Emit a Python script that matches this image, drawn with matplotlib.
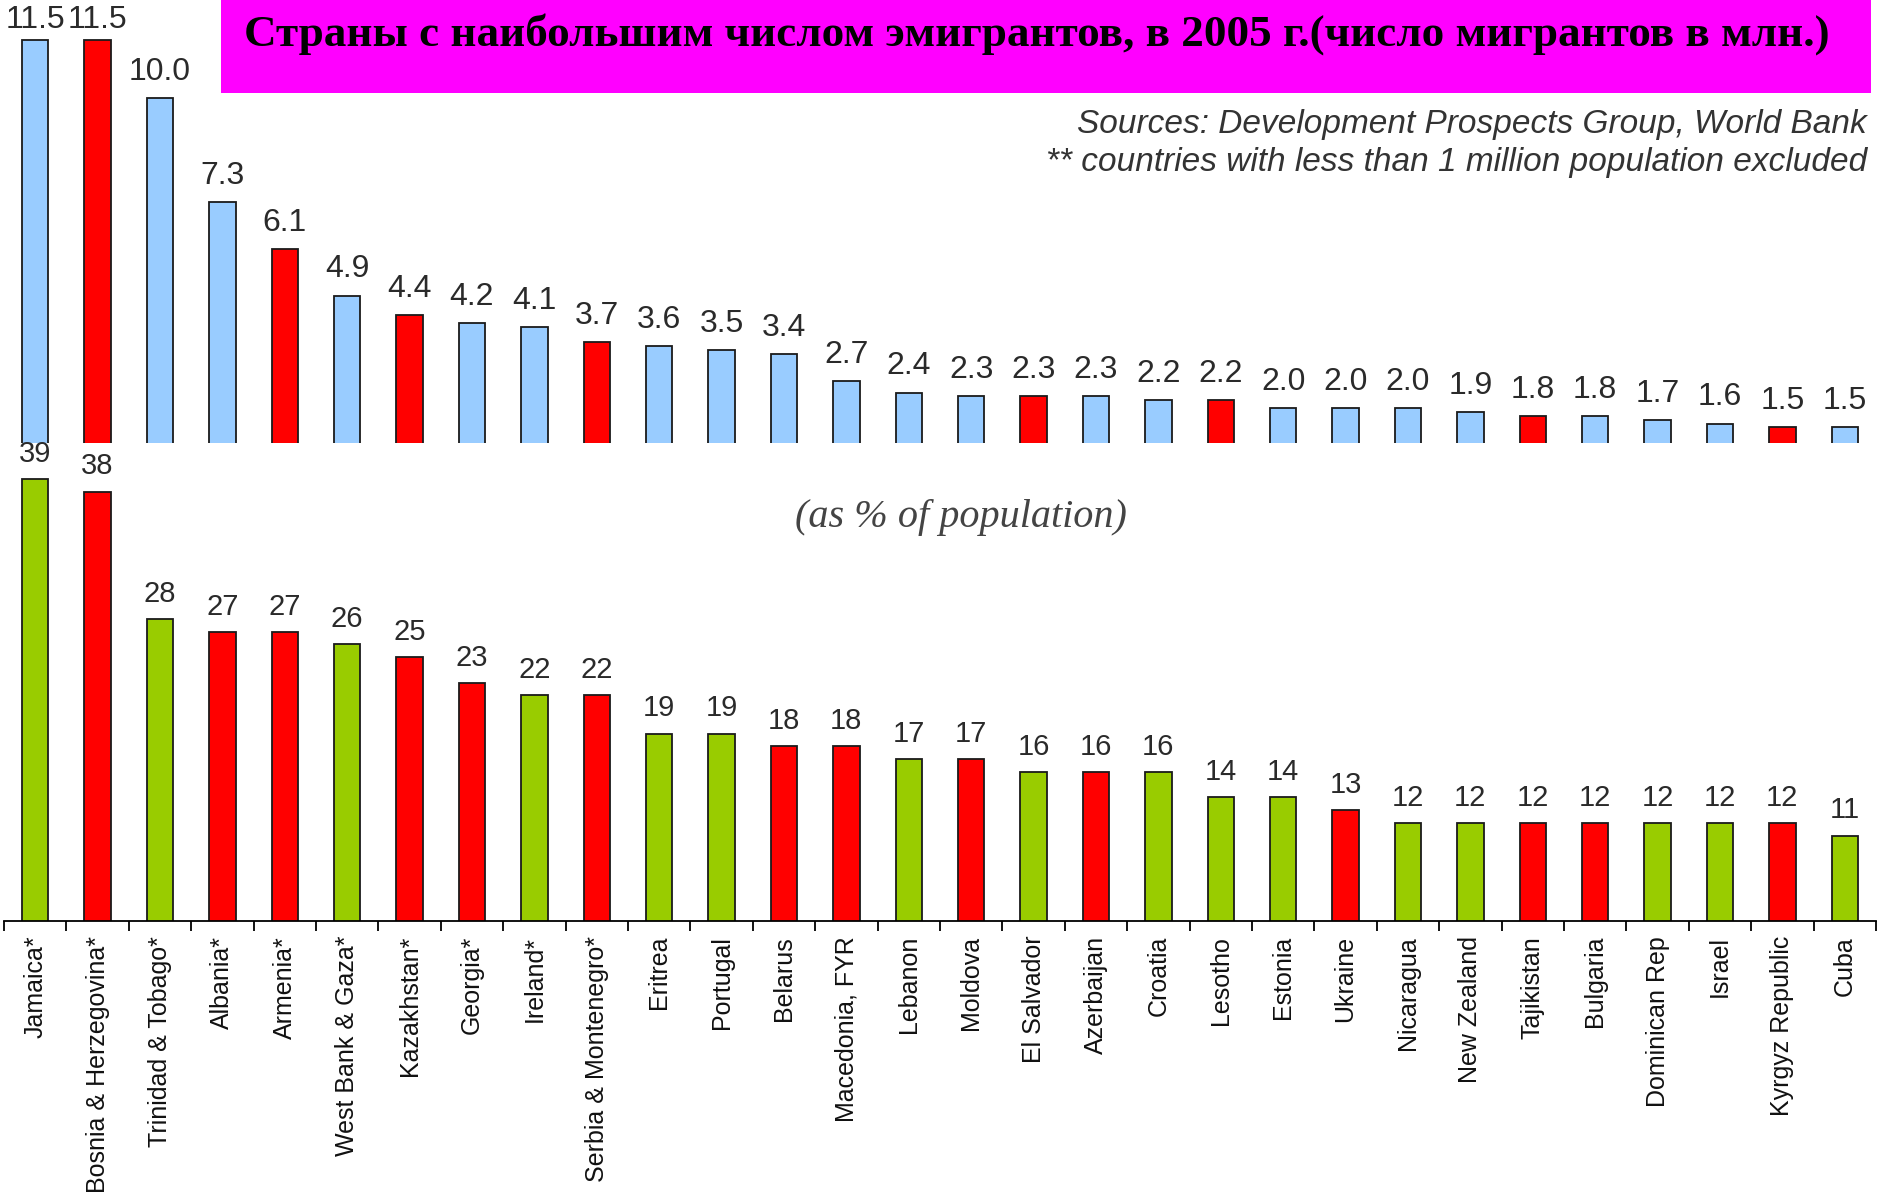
import matplotlib
matplotlib.use("Agg")
import matplotlib.pyplot as plt
from matplotlib.patches import Rectangle
from matplotlib import font_manager

# размер картинки в пикселях (dpi=100)
W, H = 1877, 1193

countries = ["Jamaica*", "Bosnia & Herzegovina*", "Trinidad & Tobago*", "Albania*", "Armenia*",
             "West Bank & Gaza*", "Kazakhstan*", "Georgia*", "Ireland*", "Serbia & Montenegro*",
             "Eritrea", "Portugal", "Belarus", "Macedonia, FYR", "Lebanon",
             "Moldova", "El Salvador", "Azerbaijan", "Croatia", "Lesotho",
             "Estonia", "Ukraine", "Nicaragua", "New Zealand", "Tajikistan",
             "Bulgaria", "Dominican Rep", "Israel", "Kyrgyz Republic", "Cuba"]
# % населения
pct = [39, 38, 28, 27, 27, 26, 25, 23, 22, 22, 19, 19, 18, 18, 17,
       17, 16, 16, 16, 14, 14, 13, 12, 12, 12, 12, 12, 12, 12, 11]
# "t" = переходные экономики (красные), "o" = остальные
pct_group = ["o", "t", "o", "t", "t", "o", "t", "t", "o", "t", "o", "o", "t", "t", "o",
             "t", "o", "t", "o", "o", "o", "t", "o", "o", "t", "t", "o", "o", "t", "o"]

# число эмигрантов, млн
mln = [11.5, 11.5, 10.0, 7.3, 6.1, 4.9, 4.4, 4.2, 4.1, 3.7, 3.6, 3.5, 3.4, 2.7, 2.4,
       2.3, 2.3, 2.3, 2.2, 2.2, 2.0, 2.0, 2.0, 1.9, 1.8, 1.8, 1.7, 1.6, 1.5, 1.5]
mln_group = ["o", "t", "o", "o", "t", "o", "t", "o", "o", "t", "o", "o", "o", "o", "o",
             "o", "t", "o", "o", "t", "o", "o", "o", "o", "t", "o", "o", "o", "t", "o"]

title = "Страны с наибольшим числом эмигрантов, в 2005 г.(число мигрантов в млн.)"
source1 = "Sources: Development Prospects Group, World Bank"
source2 = "** countries with less than 1 million population excluded"


def has_font(name):
    try:
        font_manager.findfont(name, fallback_to_default=False)
        return True
    except ValueError:
        return False


tick_font = "Liberation Sans Narrow" if has_font("Liberation Sans Narrow") else "Liberation Sans"
tick_size = 21.5 if tick_font == "Liberation Sans Narrow" else 18

fig = plt.figure(figsize=(W / 100, H / 100), dpi=100)
fig.patch.set_facecolor("white")

x = list(range(len(countries)))

# верхняя панель - млн
ax1 = fig.add_axes([4 / W, 1 - 443 / H, 1872 / W, 443 / H])
col_top = ["#FF0000" if g == "t" else "#99CCFF" for g in mln_group]
ax1.bar(x, mln, width=0.42, color=col_top, edgecolor="#1a1a1a", linewidth=1.3)
for i, v in enumerate(mln):
    # над самыми высокими столбцами подпись прижата (как в оригинале)
    dy = 3 if v > 11 else 8
    ax1.annotate("%.1f" % v, (i, v), xytext=(0, dy), textcoords="offset points",
                 ha="center", va="bottom", fontsize=23, color="#2a2a2a",
                 family="Liberation Sans", annotation_clip=False)
ax1.set_xlim(-0.5, len(x) - 0.5)
ax1.set_ylim(1.1, 12.52)
ax1.axis("off")

# нижняя панель - % населения
ax2 = fig.add_axes([4 / W, 1 - 920.5 / H, 1872 / W, 475.5 / H])
col_bot = ["#FF0000" if g == "t" else "#99CC00" for g in pct_group]
ax2.bar(x, pct, width=0.42, color=col_bot, edgecolor="#1a1a1a", linewidth=1.3)
for i, v in enumerate(pct):
    ax2.annotate(str(v), (i, v), xytext=(0, 8), textcoords="offset points",
                 ha="center", va="bottom", fontsize=21, color="#2a2a2a",
                 family="Liberation Sans")
ax2.set_xlim(-0.5, len(x) - 0.5)
ax2.set_ylim(4.33, 41.65)
for s in ["top", "right", "left"]:
    ax2.spines[s].set_visible(False)
ax2.spines["bottom"].set_linewidth(1.3)
ax2.set_yticks([])
ax2.set_xticks(x)
ax2.set_xticklabels(countries, rotation=90, va="top", ha="center",
                    fontsize=tick_size, family=tick_font, color="#111111")
ax2.set_xticks([i - 0.5 for i in range(len(x) + 1)], minor=True)
ax2.tick_params(axis="x", which="major", length=0, pad=11)
ax2.tick_params(axis="x", which="minor", length=7, width=1.3, color="black")

ax2.text(0.511, 1.0 - (518 - 445) / 475.5, "(as % of population)", transform=ax2.transAxes,
         ha="center", va="center", fontsize=29, style="italic",
         family="Liberation Serif", color="#444444")

# заголовок на розовой плашке
fig.patches.append(Rectangle((221 / W, 1 - 93 / H), (1871 - 221) / W, 93 / H,
                             transform=fig.transFigure, facecolor="#FF00FF",
                             edgecolor="none", zorder=5))
fig.text(1037 / W, 1 - 34 / H, title, ha="center", va="center", fontsize=32.5,
         fontweight="bold", family="Liberation Serif", color="black", zorder=6)

fig.text(1867 / W, 1 - 125 / H, source1, ha="right", va="center", fontsize=24,
         style="italic", family="Liberation Sans", color="#333333")
fig.text(1867 / W, 1 - 162 / H, source2, ha="right", va="center", fontsize=24,
         style="italic", family="Liberation Sans", color="#333333")

fig.savefig("out.png", dpi=100, facecolor="white")
